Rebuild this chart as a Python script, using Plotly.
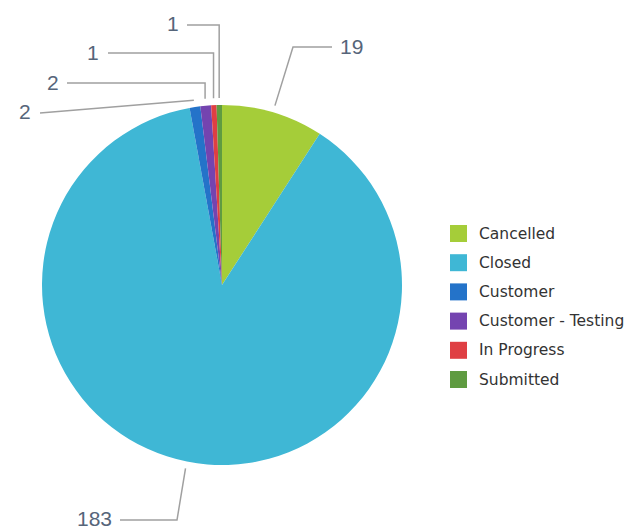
import math
import plotly.graph_objects as go

# ---- data ----
labels = ["Cancelled", "Closed", "Customer", "Customer - Testing", "In Progress", "Submitted"]
values = [19, 183, 2, 2, 1, 1]
colors = ["#a5cd39", "#3fb7d5", "#2473c9", "#7444b0", "#df3f43", "#5f9b41"]

# ---- layout (page pixels) ----
PAGE_W, PAGE_H = 639, 529
OFF = 8                      # default page body margin
W, H = PAGE_W - OFF, PAGE_H - OFF
CX, CY, R = 222, 285, 180
CONN_R = R + 7
label_style = [
    dict(knee=(293, 47), end=(332, 47), text=(338, 46), xanchor="left"),
    dict(knee=(177, 520), end=(120, 520), text=(114, 518), xanchor="right"),
    dict(knee=None, end=(40, 113), text=(33, 111), xanchor="right"),
    dict(knee=("x", 83), end=(67, 83), text=(61, 82), xanchor="right"),
    dict(knee=("x", 53), end=(108, 53), text=(101, 52), xanchor="right"),
    dict(knee=("x", 25), end=(187, 25), text=(181, 23), xanchor="right"),
]

fig = go.Figure()

fig.add_trace(go.Pie(
    labels=labels, values=values, sort=False, direction="clockwise", rotation=0,
    marker=dict(colors=colors, line=dict(width=0)),
    textinfo="none", hoverinfo="label+value", showlegend=False,
    domain=dict(x=[(CX - R - OFF) / W, (CX + R - OFF) / W],
                y=[1 - (CY + R - OFF) / H, 1 - (CY - R - OFF) / H]),
))

total = sum(values)
cum = 0
annotations = []
for i, v in enumerate(values):
    mid = (cum + v / 2) / total * 2 * math.pi
    cum += v
    sx = CX + CONN_R * math.sin(mid)
    sy = CY - CONN_R * math.cos(mid)
    st = label_style[i]
    xs, ys = [sx], [sy]
    if st["knee"] is not None:
        kx, ky = st["knee"]
        if kx == "x":
            kx = sx
        xs.append(kx); ys.append(ky)
    xs.append(st["end"][0]); ys.append(st["end"][1])
    fig.add_trace(go.Scatter(x=xs, y=ys, mode="lines", line=dict(color="#a0a0a0", width=1.5),
                             hoverinfo="skip", showlegend=False))
    annotations.append(dict(x=st["text"][0], y=st["text"][1], xref="x", yref="y",
                            text=str(v), showarrow=False, xanchor=st["xanchor"], yanchor="middle",
                            font=dict(family="Liberation Sans, Arial", size=21, color="#56657a")))

# manual legend
LX, LY0, LDY, LS = 450, 233.5, 29.2, 17
shapes = []
for i, (lab, col) in enumerate(zip(labels, colors)):
    yc = LY0 + i * LDY
    shapes.append(dict(type="rect", xref="x", yref="y", x0=LX, x1=LX + LS, y0=yc - LS / 2, y1=yc + LS / 2,
                       fillcolor=col, line=dict(width=0)))
    annotations.append(dict(x=LX + 27, y=yc, xref="x", yref="y", text=lab, showarrow=False,
                            xanchor="left", yanchor="middle",
                            font=dict(family="DejaVu Sans, Verdana", size=15.5, color="#333333")))

fig.update_layout(
    width=W, height=H, margin=dict(l=0, r=0, t=0, b=0),
    paper_bgcolor="white", plot_bgcolor="rgba(0,0,0,0)",
    xaxis=dict(range=[OFF, PAGE_W], visible=False, fixedrange=True),
    yaxis=dict(range=[PAGE_H, OFF], visible=False, fixedrange=True),
    shapes=shapes, annotations=annotations, showlegend=False,
)

fig.write_html("out.html")
